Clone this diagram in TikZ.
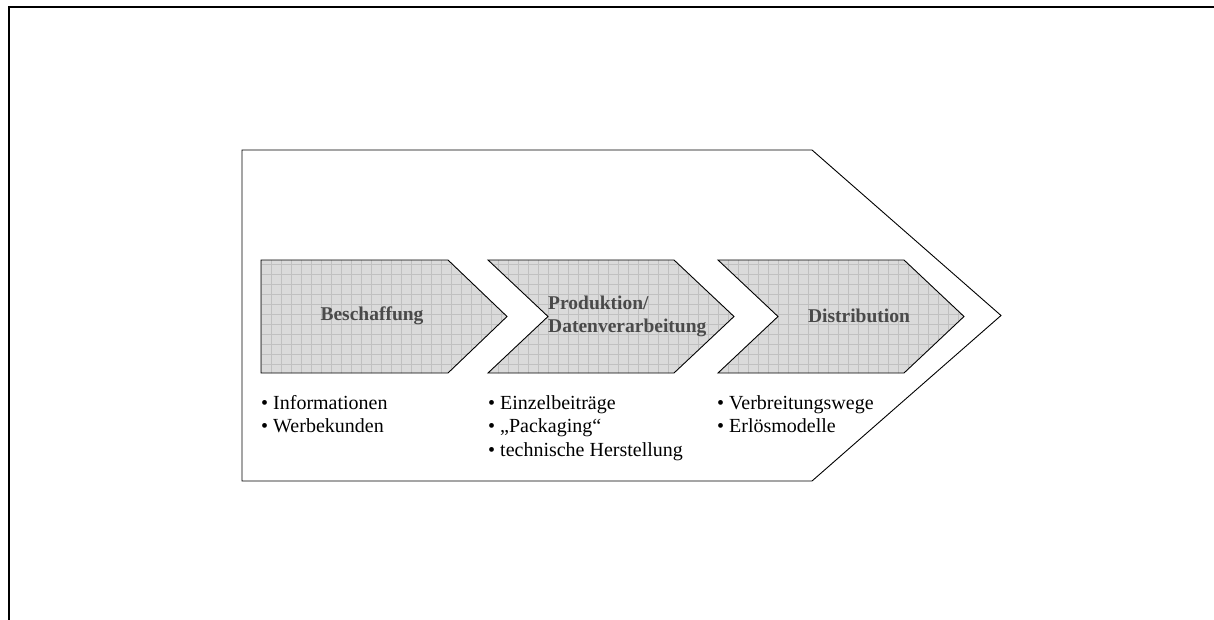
\documentclass[tikz,border=0pt]{standalone}
\usepackage{fontspec}
\setmainfont{Liberation Serif}
\definecolor{stagebase}{HTML}{DADADA}
\definecolor{stagegrid}{HTML}{C0C0C0}
\definecolor{stagetext}{HTML}{4A4A4A}
\begin{document}
\begin{tikzpicture}[x=1pt,y=-1pt,
  frameline/.style={line width=2pt,black},
  outerarrow/.style={draw=black,line width=0.9pt},
  stageedge/.style={draw=black,line width=0.9pt},
  stagelabel/.style={font=\fontsize{19.5}{23}\selectfont\bfseries,text=stagetext,align=left,inner sep=0pt},
  itemlist/.style={font=\fontsize{20}{23.5}\selectfont,align=left,anchor=north west,inner sep=0pt}]
\useasboundingbox (0,0) rectangle (1214,620);
% page frame
\draw[frameline] (9,620) -- (9,7) -- (1214,7);
% large enclosing arrow
\draw[outerarrow] (242,150) -- (812,150) -- (1001,315.5) -- (812,481) -- (242,481) -- cycle;
% three chevron stages with a grid-textured fill
\foreach \a/\b/\c/\d in {261/261/448/507, 488/548/674/734, 718/778/904/964}{
  \begin{scope}
    \clip (\a,260) -- (\c,260) -- (\d,316.5) -- (\c,373) -- (\a,373) -- (\b,316.5) -- cycle;
    \fill[stagebase] (\a,255) rectangle (\d,378);
    \foreach \gx in {0,10,...,300}{\draw[stagegrid,line width=0.8pt] (\a+\gx,255) -- (\a+\gx,378);}
    \foreach \gy in {264,274,...,374}{\draw[stagegrid,line width=0.8pt] (\a,\gy) -- (\d,\gy);}
  \end{scope}
  \draw[stageedge] (\a,260) -- (\c,260) -- (\d,316.5) -- (\c,373) -- (\a,373) -- (\b,316.5) -- cycle;
}
% stage titles
\node[stagelabel] (beschaffung) at (372,316) {Beschaffung};
\node[stagelabel,anchor=west] (produktion) at (548,316) {Produktion/\\Datenverarbeitung};
\node[stagelabel] (distribution) at (859,316) {Distribution};
% item lists below the stages
\node[itemlist] (items1) at (261,395) {• Informationen\\• Werbekunden};
\node[itemlist] (items2) at (488,395) {• Einzelbeiträge\\• „Packaging“\\• technische Herstellung};
\node[itemlist] (items3) at (717,395) {• Verbreitungswege\\• Erlösmodelle};
\end{tikzpicture}
\end{document}
